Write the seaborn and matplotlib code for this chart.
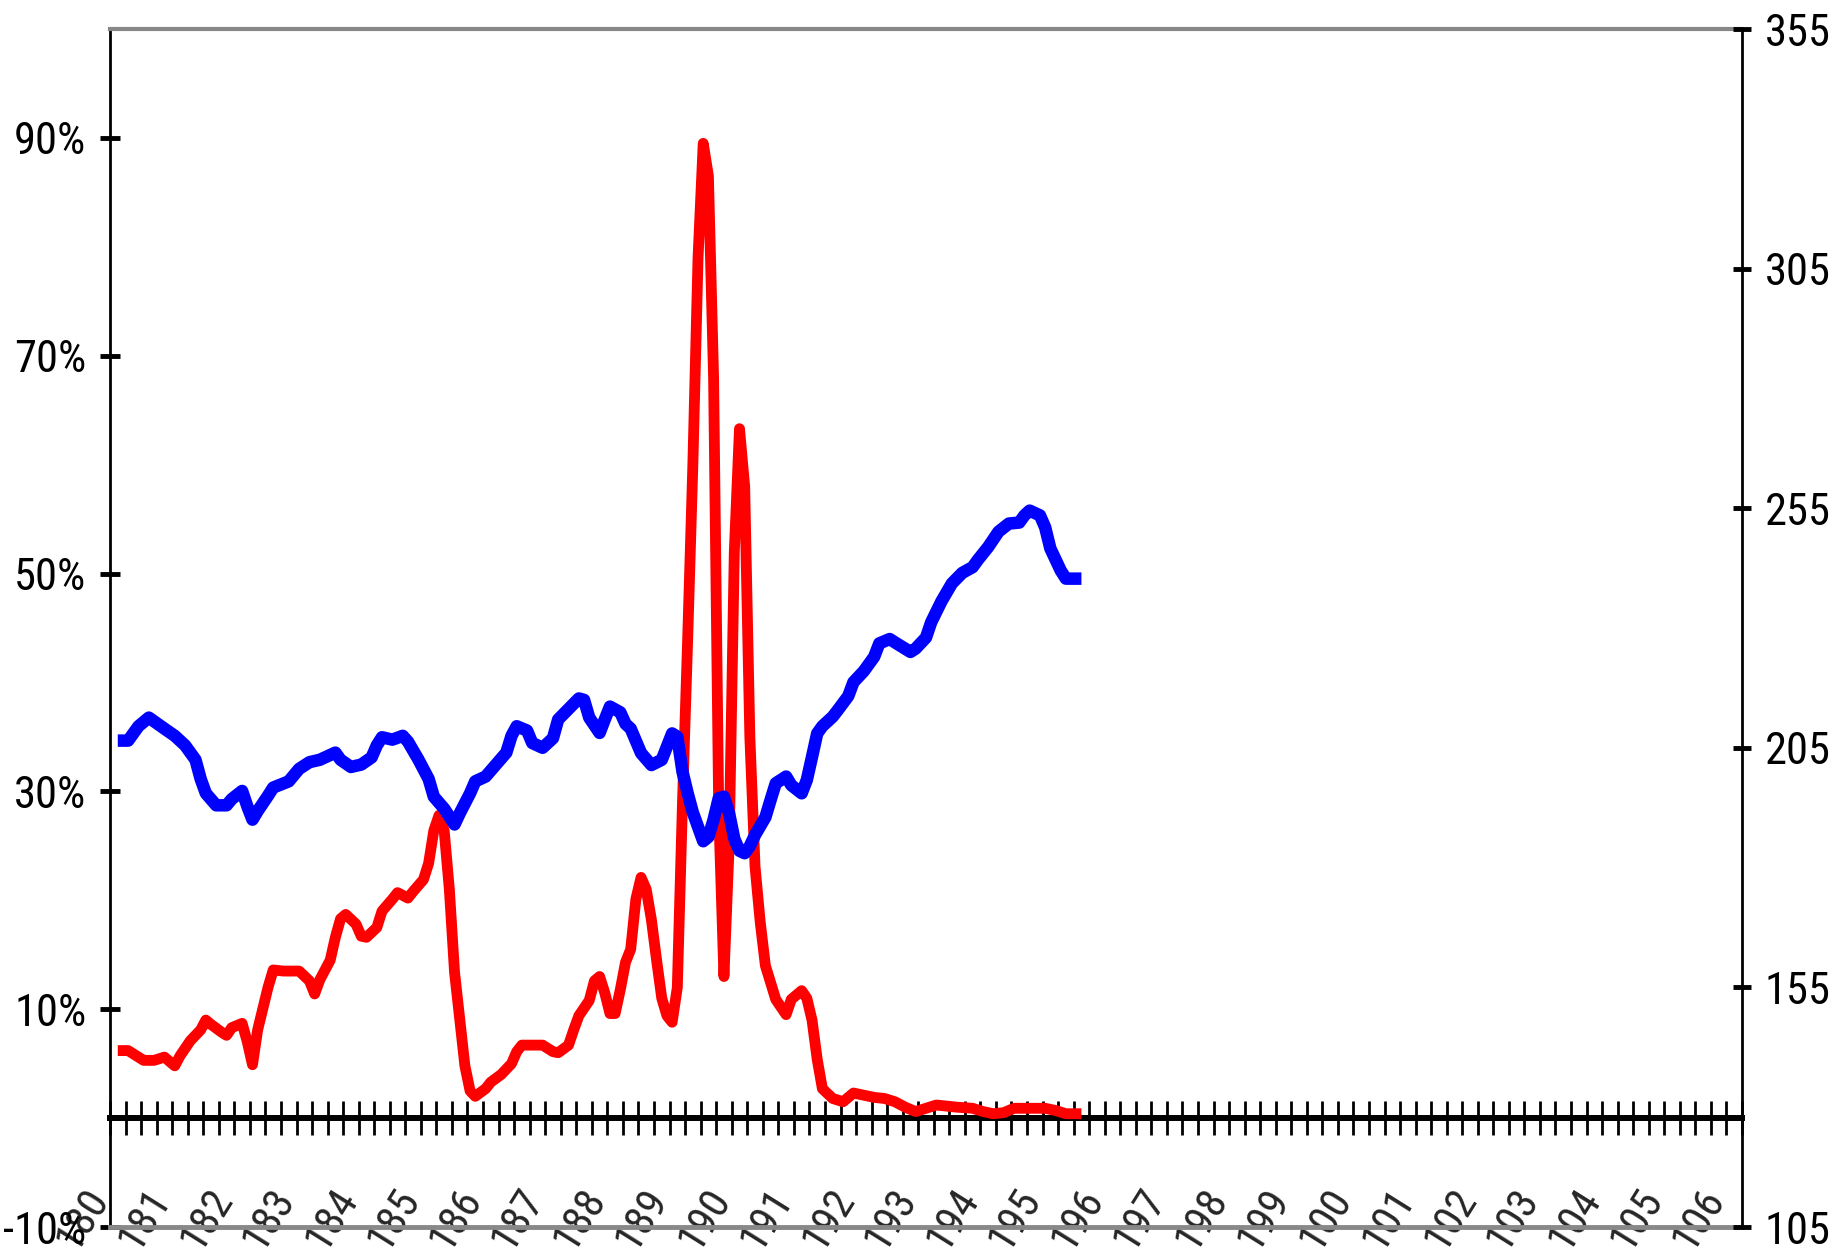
import matplotlib
matplotlib.use('Agg')
import matplotlib.pyplot as plt
from matplotlib import font_manager
import numpy as np
import pandas as pd
import seaborn as sns
from matplotlib.transforms import ScaledTranslation

sns.set_style('white')

# the reference uses a narrow face; take the narrowest one installed
narrow = None
names = {f.name for f in font_manager.fontManager.ttflist}
for cand in ['Liberation Sans Narrow', 'Noto Sans ExtraCondensed', 'Noto Sans Condensed',
             'Roboto Condensed', 'Open Sans Condensed', 'DejaVu Sans Condensed']:
    if cand in names:
        narrow = cand
        break
if narrow is None:
    for f in font_manager.fontManager.ttflist:
        if f.stretch in ('condensed', 'extra-condensed', 'semi-condensed') and f.style == 'normal' \
                and f.weight in (400, 'normal', 'regular'):
            narrow = f.name
            break
plt.rcParams['font.family'] = [narrow or 'Liberation Sans', 'DejaVu Sans']
if narrow is not None:
    plt.rcParams['font.stretch'] = 'condensed'
ysize = 32 if narrow else 24
xsize = 31 if narrow else 24

# months counted from Jan 1980 (category axis runs Jan 1980 .. Mar 2006)
red_month = [1, 3, 5, 6, 8, 10, 12, 13, 15, 17, 18, 19, 21, 22, 23, 25, 26, 27, 28, 30,
             31, 33, 36, 38, 39, 40, 42, 43, 44, 45, 47, 48, 49, 51, 52, 54, 55, 57, 58, 60,
             61, 62, 63, 64, 65, 66, 67, 68, 69, 70, 72, 73, 75, 77, 78, 79, 83, 85, 86, 88,
             89, 90, 92, 93, 94, 95, 96, 97, 98, 99, 100, 101, 102, 103, 104, 105, 106, 107, 108, 109,
             110, 111, 112, 113, 114, 115, 116, 117, 118, 119, 120, 121, 122, 123, 124, 125, 126, 128, 130, 131,
             133, 134, 135, 136, 137, 139, 141, 143, 145, 147, 149, 151, 153, 155, 157, 159, 161, 163, 166, 168,
             170, 172, 174, 180, 182, 184, 187]
red_pct = [6.2, 6.2, 5.6, 5.3, 5.3, 5.6, 4.8, 5.7, 7.1, 8.1, 9.0, 8.6, 7.9, 7.6, 8.3, 8.7, 7.0, 4.9, 8.1, 12.0,
           13.6, 13.5, 13.5, 12.6, 11.4, 12.7, 14.5, 16.6, 18.3, 18.7, 17.8, 16.7, 16.6, 17.5, 19.0, 20.1, 20.7, 20.2, 20.8, 21.9,
           23.4, 26.4, 27.8, 26.4, 21.0, 13.4, 9.1, 4.8, 2.5, 2.0, 2.7, 3.3, 4.0, 5.0, 6.1, 6.7, 6.7, 6.1, 6.0, 6.7,
           8.1, 9.4, 10.8, 12.6, 13.0, 11.5, 9.6, 9.6, 11.8, 14.3, 15.5, 20.1, 22.1, 21.0, 18.2, 14.5, 11.0, 9.4, 8.8, 12.0,
           29.0, 44.0, 60.0, 79.0, 89.5, 86.5, 68.0, 28.0, 13.0, 25.0, 52.0, 63.3, 58.0, 35.0, 23.1, 18.0, 14.0, 10.9, 9.5, 10.9,
           11.7, 11.0, 9.0, 5.4, 2.7, 1.8, 1.5, 2.3, 2.1, 1.9, 1.8, 1.5, 1.0, 0.6, 0.9, 1.2, 1.1, 1.0, 0.9, 0.6,
           0.4, 0.5, 0.9, 0.9, 0.7, 0.4, 0.4]

blue_month = [1, 3, 5, 7, 10, 12, 14, 16, 17, 18, 20, 22, 23, 25, 26, 27, 28, 30, 31, 34,
              36, 38, 40, 43, 44, 46, 48, 50, 51, 52, 54, 56, 57, 59, 61, 62, 64, 66, 67, 69,
              70, 72, 74, 76, 77, 78, 80, 81, 83, 85, 86, 88, 90, 91, 92, 94, 95, 96, 98, 99,
              100, 102, 104, 106, 108, 109, 110, 111, 112, 114, 115, 116, 117, 118, 119, 120, 121, 122, 123, 124,
              126, 127, 128, 130, 131, 133, 134, 135, 136, 137, 139, 140, 142, 143, 145, 147, 148, 150, 151, 154,
              155, 157, 158, 160, 162, 164, 166, 167, 169, 171, 173, 175, 176, 177, 179, 180, 181, 183, 184, 187]
blue_level = [206.5, 206.5, 209.5, 211.3, 209.0, 207.5, 205.5, 202.5, 198.5, 195.5, 193.0, 193.0, 194.3, 196.0, 192.8, 190.0, 191.8, 195.0, 196.7, 198.0,
              200.6, 202.0, 202.5, 204.0, 202.5, 201.0, 201.5, 203.0, 205.5, 207.2, 206.7, 207.5, 206.3, 202.6, 198.5, 194.8, 192.3, 189.0, 191.3, 195.5,
              198.0, 199.0, 201.5, 204.0, 207.5, 209.5, 208.6, 206.0, 205.0, 207.0, 210.9, 213.1, 215.3, 215.0, 211.3, 208.1, 210.9, 213.6, 212.4, 210.0,
              209.0, 203.9, 201.4, 202.5, 208.0, 207.3, 200.0, 195.5, 191.5, 185.5, 186.4, 190.0, 194.5, 194.8, 191.3, 186.0, 183.5, 183.0, 184.5, 186.8,
              190.5, 194.1, 197.6, 199.0, 197.2, 195.5, 198.3, 203.1, 208.0, 209.5, 211.5, 212.9, 215.8, 218.7, 221.0, 224.0, 226.8, 227.7, 227.0, 225.0,
              225.7, 228.0, 231.2, 235.6, 239.3, 241.5, 242.7, 244.2, 246.9, 250.1, 251.8, 252.0, 253.5, 254.5, 253.5, 251.0, 246.6, 242.0, 240.3, 240.3]

year_labels = ['180', '181', '182', '183', '184', '185', '186', '187', '188', '189',
               '190', '191', '192', '193', '194', '195', '196', '197', '198', '199',
               '100', '101', '102', '103', '104', '105', '106']
left_ticks = [-10, 10, 30, 50, 70, 90]
right_ticks = [105, 155, 205, 255, 305, 355]
n_months = 315

red = pd.DataFrame({'month': red_month, 'pct': red_pct})
blue = pd.DataFrame({'month': blue_month, 'level': blue_level})

fig = plt.figure(figsize=(18.37, 12.55), dpi=100)
ax = fig.add_axes([110 / 1837, 28 / 1255, 1632 / 1837, 1198 / 1255])
ax2 = ax.twinx()

sns.lineplot(data=red, x='month', y='pct', ax=ax, color='#ff0000', linewidth=7.8,
             solid_joinstyle='round', solid_capstyle='butt')
sns.lineplot(data=blue, x='month', y='level', ax=ax2, color='#0000ff', linewidth=9,
             solid_joinstyle='round', solid_capstyle='butt')

ax.set_xlim(-0.5, n_months - 0.5)
ax.set_ylim(-10, 100)
ax2.set_ylim(105, 355)
for a in (ax, ax2):
    a.set_xlabel('')
    a.set_ylabel('')
    a.grid(False)

# frame: black value axes, grey top/bottom
gray = '#888888'
ax.spines['top'].set_color(gray)
ax.spines['top'].set_linewidth(3)
ax.spines['bottom'].set_color(gray)
ax.spines['bottom'].set_linewidth(3.5)
ax.spines['left'].set_color('black')
ax.spines['left'].set_linewidth(2)
ax.spines['right'].set_visible(False)
for s in ('top', 'bottom', 'left'):
    ax2.spines[s].set_visible(False)
ax2.spines['right'].set_color('black')
ax2.spines['right'].set_linewidth(2)

ax.set_yticks(left_ticks, [f'{v}%' for v in left_ticks])
ax.tick_params(axis='y', direction='inout', length=14, width=3.5, pad=10,
               labelsize=ysize, colors='black', left=True)
ax2.set_yticks(right_ticks, [str(v) for v in right_ticks])
ax2.tick_params(axis='y', direction='inout', length=13, width=3.5, pad=10,
                labelsize=ysize, colors='black', right=True)

# year labels at the bottom of the plot area
ax.set_xticks(np.arange(0, n_months, 12), year_labels)
ax.tick_params(axis='x', length=0, pad=0, labelsize=xsize, bottom=False)
shift = ScaledTranslation(-0.30, 0.08, fig.dpi_scale_trans)
for lab in ax.get_xticklabels():
    lab.set_rotation(58)
    lab.set_ha('center')
    lab.set_va('center')
    lab.set_transform(lab.get_transform() + shift)

# category axis crossing at 0% with quarterly tick marks
zero_loc = (0 - ax.get_ylim()[0]) / (ax.get_ylim()[1] - ax.get_ylim()[0])
sec = ax.secondary_xaxis(zero_loc)
sec.set_xticks(np.arange(-0.5, n_months, 3))
sec.tick_params(axis='x', direction='inout', length=24, width=2, colors='black',
                labelbottom=False, labeltop=False, bottom=True, top=False)
for s in sec.spines.values():
    s.set_color('black')
    s.set_linewidth(4.3)

fig.savefig('out.png', dpi=100)
